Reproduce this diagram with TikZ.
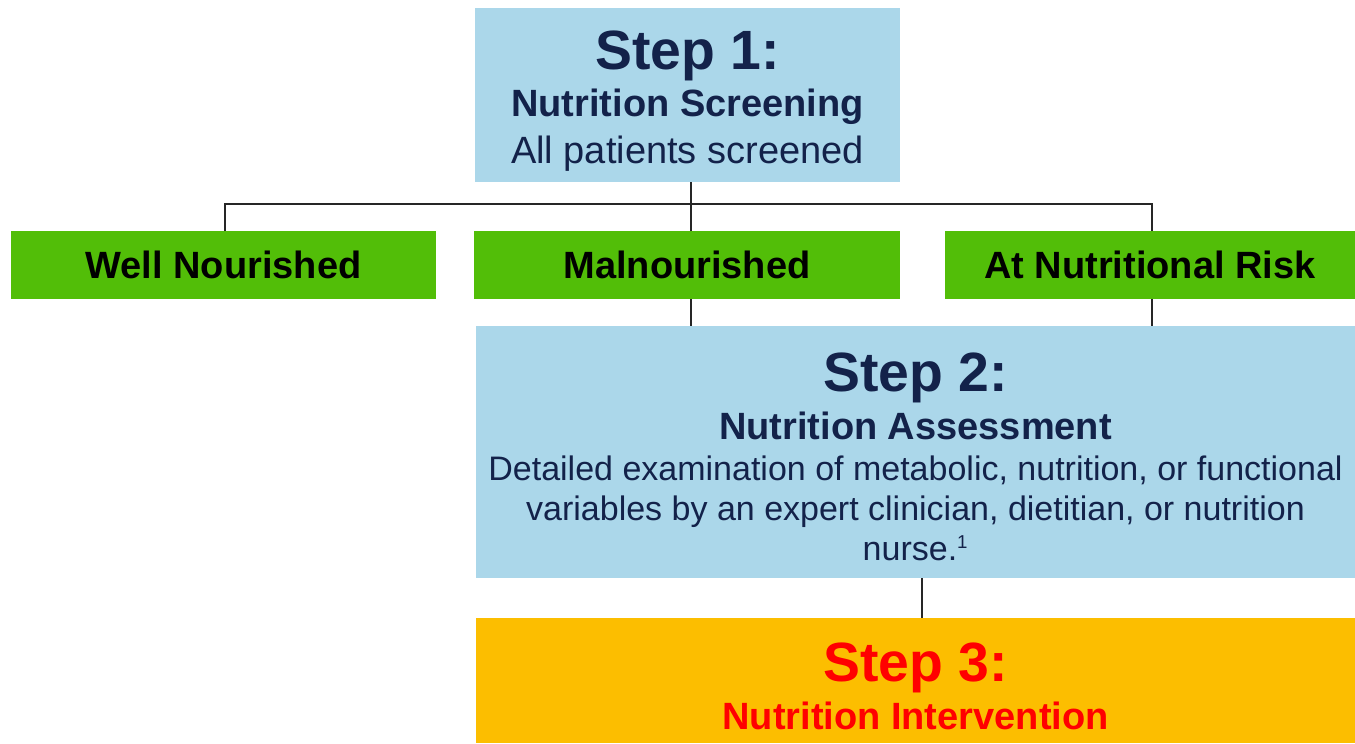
\documentclass[tikz,border=0pt]{standalone}
\usepackage{fontspec}
\setmainfont{Liberation Sans}
\definecolor{stepblue}{HTML}{ABD7EA}
\definecolor{groupgreen}{HTML}{52BE08}
\definecolor{stepgold}{HTML}{FCBE00}
\definecolor{navytext}{HTML}{13224A}
\definecolor{steprred}{HTML}{FF0000}
\newcommand{\bigstep}[2]{{\fontsize{41.5}{41.5}\selectfont\bfseries\rule{0pt}{#1}#2}}
\tikzset{
  stepbox/.style={fill=stepblue, text=navytext, inner sep=0pt, align=center,
    font=\fontsize{28.5}{35}\selectfont},
  groupbox/.style={fill=groupgreen, text=black, inner sep=0pt,
    minimum height=51pt, font=\fontsize{28.5}{34}\selectfont\bfseries},
  link/.style={draw=black!85, line width=0.9pt}
}
\begin{document}
\begin{tikzpicture}[x=0.75pt, y=-0.75pt]
		\useasboundingbox (0,0) rectangle (1355,743);
		\node[stepbox, minimum width=318.75pt, minimum height=130.5pt] (s1) at (687.5,95)
		  {\bigstep{38pt}{Step 1:}\\ \textbf{Nutrition Screening}\\ All patients screened};
		
		\node[groupbox, minimum width=318.75pt] (well) at (223.5,265) {Well Nourished};
		\node[groupbox, minimum width=319.5pt] (mal) at (687,265) {Malnourished};
		\node[groupbox, minimum width=307.5pt] (risk) at (1150,265) {At Nutritional Risk};
		
		\node[stepbox, minimum width=659.25pt, minimum height=189pt] (s2) at (915.5,452)
		  {\bigstep{36.5pt}{Step 2:}\\[1pt] \textbf{Nutrition Assessment}\\[-4pt]
		   {\fontsize{25.5}{30}\selectfont Detailed examination of metabolic, nutrition, or functional}\\[-5pt]
		   {\fontsize{25.5}{30}\selectfont variables by an expert clinician, dietitian, or nutrition}\\[-5pt]
		   {\fontsize{25.5}{30}\selectfont nurse.\textsuperscript{\fontsize{14}{14}\selectfont 1}}};
		
		\node[stepbox, fill=stepgold, text=steprred, minimum width=659.25pt, minimum height=93.75pt,
		  font=\fontsize{28.5}{36}\selectfont] (s3) at (915.5,680.5)
		  {\bigstep{38pt}{Step 3:}\\ \textbf{Nutrition Intervention}};
		
		\coordinate (split) at (691,204);
		\draw[link] (691,182) -- (split);
		\draw[link] (split) -| (well.north -| 225,0);
		\draw[link] (split) -| (risk.north -| 1152,0);
		\draw[link] (split) -- (mal.north -| 691,0);
		\draw[link] (mal.south -| 691,0) -- (s2.north -| 691,0);
		\draw[link] (risk.south -| 1152,0) -- (s2.north -| 1152,0);
		\draw[link] (s2.south -| 922,0) -- (s3.north -| 922,0);
		\end{tikzpicture}
\end{document}
